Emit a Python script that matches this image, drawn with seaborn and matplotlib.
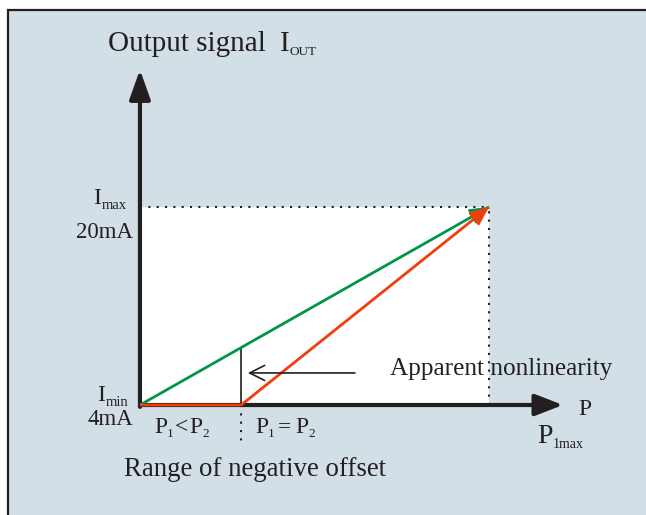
import matplotlib
matplotlib.use("Agg")
import matplotlib.pyplot as plt
import seaborn as sns
import pandas as pd
from matplotlib.patches import Rectangle

# ---------------- data ----------------
pressure_green = [0, 100]          # % of P1max, sensor without offset
current_green = [4, 20]            # mA
pressure_red = [0, 29, 100]        # % of P1max, sensor with negative offset
current_red = [4, 4, 20]           # mA
i_min, i_max = 4, 20               # mA
p_max = 100                        # P1max (%)
p_offset = 29                      # P1 = P2 point (%)

W, H = 646, 515
sns.set_theme(style="white")
plt.rcParams["font.family"] = ["Liberation Serif", "DejaVu Serif"]

fig = plt.figure(figsize=(W / 100, H / 100), dpi=100)
fig.patch.set_facecolor("white")
ax = fig.add_axes([0, 0, 1, 1])
ax.set_xlim(-40.1, 145.0)
ax.set_ylim(-4.889, 36.727)
ax.axis("off")

INK = "#231f20"
GREEN = "#00964a"
RED = "#ee3d0e"

# panel background with left/top border
ax.add_patch(Rectangle((7.5 / W, -0.05), 1.2, 1 - 9.5 / H + 0.05, transform=fig.transFigure,
                       facecolor="#d2dfe6", edgecolor=INK, lw=1.6, clip_on=False, zorder=0))
# white measuring range
ax.add_patch(Rectangle((0, i_min), p_max, i_max - i_min, facecolor="white",
                       edgecolor="none", zorder=1))
# dotted limits
ax.plot([0, p_max], [i_max, i_max], color=INK, lw=1.5, ls=(0, (1, 3)), zorder=2)
ax.plot([p_max, p_max], [i_min, i_max], color=INK, lw=1.5, ls=(0, (1, 3)), zorder=2)
ax.plot([p_offset, p_offset], [i_min, 0.8], color=INK, lw=1.5, ls=(0, (1, 3)), zorder=2)

# axes arrows
ax.annotate("", xy=(121.2, i_min), xytext=(0, i_min),
            arrowprops=dict(arrowstyle="-|>,head_length=0.85,head_width=0.33", color=INK,
                            lw=3.0, shrinkA=0, shrinkB=0, mutation_scale=20), zorder=3)
ax.annotate("", xy=(0, 31.1), xytext=(0, i_min - 0.15),
            arrowprops=dict(arrowstyle="-|>,head_length=0.9,head_width=0.32", color=INK,
                            lw=3.0, shrinkA=0, shrinkB=0, mutation_scale=20), zorder=3)

# characteristic lines
df_g = pd.DataFrame({"P": pressure_green, "I": current_green})
df_r = pd.DataFrame({"P": pressure_red, "I": current_red})
sns.lineplot(data=df_g, x="P", y="I", ax=ax, color=GREEN, lw=2.0, zorder=4,
             solid_capstyle="butt", sort=False)
sns.lineplot(data=df_r, x="P", y="I", ax=ax, color=RED, lw=2.0, zorder=5,
             solid_capstyle="butt", sort=False)
for xs, ys, c in [(pressure_green, current_green, GREEN), (pressure_red, current_red, RED)]:
    ax.annotate("", xy=(xs[-1], ys[-1]),
                xytext=(xs[-1] - (xs[-1] - xs[-2]) * 0.05, ys[-1] - (ys[-1] - ys[-2]) * 0.05),
                arrowprops=dict(arrowstyle="-|>,head_length=0.65,head_width=0.28", color=c,
                                lw=1.5, shrinkA=0, shrinkB=0, mutation_scale=18), zorder=6)

# apparent nonlinearity marker
i_green_at_offset = i_min + (i_max - i_min) * p_offset / p_max
ax.plot([p_offset, p_offset], [i_min, i_green_at_offset], color=INK, lw=1.2, zorder=3)
ax.annotate("", xy=(30.9, 6.59), xytext=(61.6, 6.59),
            arrowprops=dict(arrowstyle="->,head_length=0.6,head_width=0.3", color=INK,
                            lw=1.2, shrinkA=0, shrinkB=0, mutation_scale=18), zorder=6)

# ---------------- text ----------------
renderer = fig.canvas.get_renderer()


def rich(x, y, pieces, ha="left"):
    """pieces: (text, fontsize, dy_px, gap_after_px)"""
    arts = []
    cx = x
    for s, size, dy, gap in pieces:
        t = fig.text(cx / W, 1 - (y + dy) / H, s, fontsize=size, va="baseline",
                     ha="left", color=INK)
        bb = t.get_window_extent(renderer)
        cx += bb.width + gap
        arts.append(t)
    if ha == "right":
        shift = (cx - x)
        for t in arts:
            px, py = t.get_position()
            t.set_position((px - shift / W, py))


rich(108, 51, [("Output signal", 21, 0, 14), ("I", 21, 0, 0), ("OUT", 9.5, 4, 0)])
rich(93, 204, [("I", 17, 0, 1), ("max", 10.5, 5, 0)])
rich(133, 238, [("20mA", 16.5, 0, 0)], ha="right")
rich(97, 401, [("I", 17, 0, 1), ("min", 10.5, 5, 0)])
rich(133, 425, [("4mA", 16.5, 0, 0)], ha="right")
rich(154, 433, [("P", 17, 0, 0), ("1", 9.5, 4, 1), ("<", 17, 0, 1), ("P", 17, 0, 0), ("2", 9.5, 4, 0)])
rich(255, 433, [("P", 17, 0, 0), ("1", 9.5, 4, 3), ("=", 17, 0, 4), ("P", 17, 0, 0), ("2", 9.5, 4, 0)])
rich(578, 415, [("P", 17, 0, 0)])
rich(537, 443, [("P", 20, 0, 0), ("1max", 10, 5, 0)])
rich(390, 375, [("Apparent nonlinearity", 18.2, 0, 0)])
rich(124, 476, [("Range of negative offset", 19.4, 0, 0)])

fig.savefig("out.png", dpi=100)
